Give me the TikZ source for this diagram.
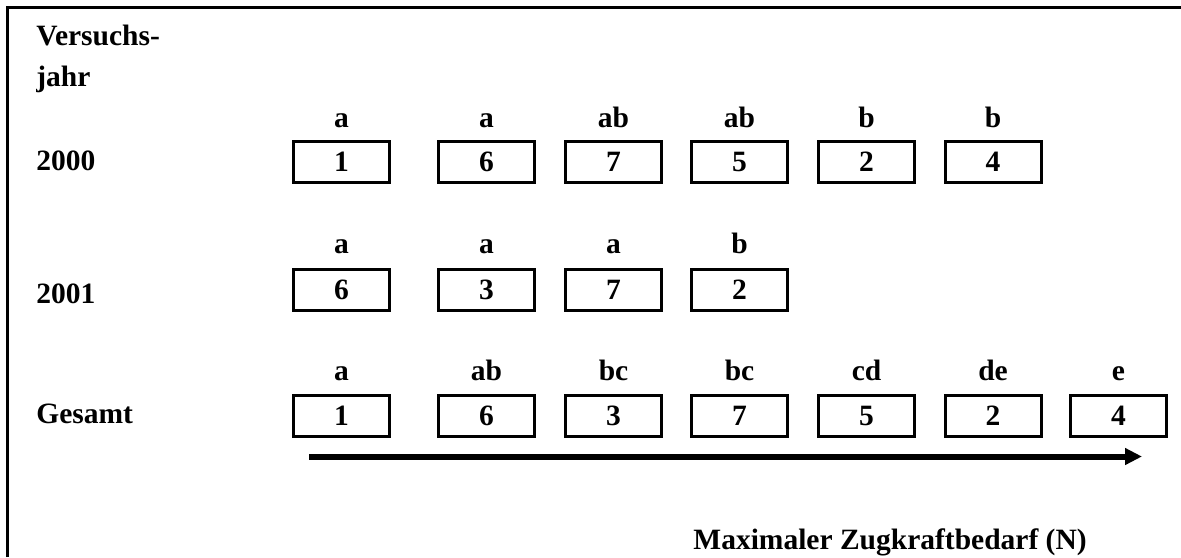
\documentclass[tikz,border=0pt]{standalone}
\usepackage{fontspec}
\setmainfont{Liberation Serif}
\usetikzlibrary{arrows.meta}
\begin{document}
\begin{tikzpicture}[x=0.5pt,y=-0.5pt,
  every node/.style={font=\fontsize{14.75pt}{17pt}\selectfont\bfseries},
  numbox/.style={draw,line width=1.5pt,minimum width=48pt,minimum height=20.5pt,inner sep=0pt},
  grp/.style={anchor=base,inner sep=0pt},
  rowlbl/.style={anchor=base west,inner sep=0pt},
  frameline/.style={line width=1.5pt},
  trend/.style={line width=3pt,-{Triangle[length=8.5pt,width=8pt]}}]
\useasboundingbox (0,0) rectangle (1181,557);
\draw[frameline] (7,557) -- (7,7) -- (1181,7);
% row labels
\node[rowlbl] (hdr1) at (36,45) {Versuchs-};
\node[rowlbl] (hdr2) at (36,86) {jahr};
\node[rowlbl] (y2000) at (36,170) {2000};
\node[rowlbl] (y2001) at (36,303) {2001};
\node[rowlbl] (ges) at (36,423) {Gesamt};
% row 2000
\node[numbox] (a1) at (341.5,162) {1};
\node[numbox] (a2) at (486.5,162) {6};
\node[numbox] (a3) at (613.5,162) {7};
\node[numbox] (a4) at (739.5,162) {5};
\node[numbox] (a5) at (866.5,162) {2};
\node[numbox] (a6) at (993,162) {4};
\node[grp] (la1) at (341.5,127) {a};
\node[grp] (la2) at (486.5,127) {a};
\node[grp] (la3) at (613.5,127) {ab};
\node[grp] (la4) at (739.5,127) {ab};
\node[grp] (la5) at (866.5,127) {b};
\node[grp] (la6) at (993,127) {b};
% row 2001
\node[numbox] (b1) at (341.5,289.5) {6};
\node[numbox] (b2) at (486.5,289.5) {3};
\node[numbox] (b3) at (613.5,289.5) {7};
\node[numbox] (b4) at (739.5,289.5) {2};
\node[grp] (lb1) at (341.5,253) {a};
\node[grp] (lb2) at (486.5,253) {a};
\node[grp] (lb3) at (613.5,253) {a};
\node[grp] (lb4) at (739.5,253) {b};
% Gesamt
\node[numbox] (c1) at (341.5,416) {1};
\node[numbox] (c2) at (486.5,416) {6};
\node[numbox] (c3) at (613.5,416) {3};
\node[numbox] (c4) at (739.5,416) {7};
\node[numbox] (c5) at (866.5,416) {5};
\node[numbox] (c6) at (993,416) {2};
\node[numbox] (c7) at (1118.5,416) {4};
\node[grp] (lc1) at (341.5,380) {a};
\node[grp] (lc2) at (486.5,380) {ab};
\node[grp] (lc3) at (613.5,380) {bc};
\node[grp] (lc4) at (739.5,380) {bc};
\node[grp] (lc5) at (866.5,380) {cd};
\node[grp] (lc6) at (993,380) {de};
\node[grp] (lc7) at (1118.5,380) {e};
% arrow
\coordinate (arrS) at (309,456.5);
\coordinate (arrE) at (1142,456.5);
\draw[trend] (arrS) -- (arrE);
\node[rowlbl] (axis) at (693,549) {Maximaler Zugkraftbedarf (N)};
\end{tikzpicture}
\end{document}
